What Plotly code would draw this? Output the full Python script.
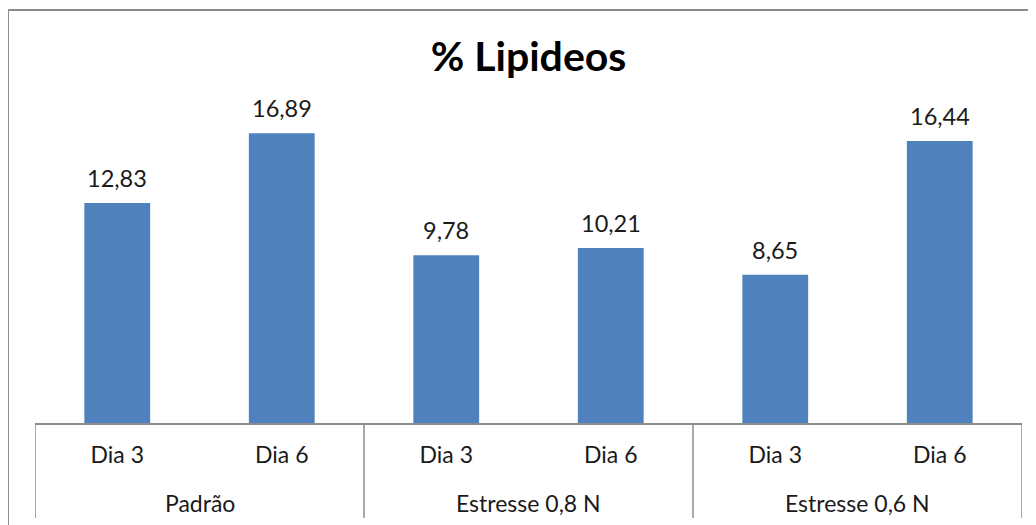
import plotly.graph_objects as go

grupos = ["Padrão", "Estresse 0,8 N", "Estresse 0,6 N"]
dias = ["Dia 3", "Dia 6", "Dia 3", "Dia 6", "Dia 3", "Dia 6"]
lipideos = [12.83, 16.89, 9.78, 10.21, 8.65, 16.44]

FONT = "Lato, Open Sans, sans-serif"
GRAY = "#8c8c8c"

cats = [f"{grupos[i // 2]} {d}" for i, d in enumerate(dias)]
labels = [f"{v:.2f}".replace(".", ",") for v in lipideos]

fig = go.Figure()
fig.add_trace(go.Bar(x=cats, y=lipideos, marker_color="#4F81BD", marker_line_width=0))

for c, v, t in zip(cats, lipideos, labels):
    fig.add_annotation(x=c, y=v, text=t, showarrow=False, yanchor="middle", yshift=25,
                       font=dict(family=FONT, size=23.5, color="#1a1a1a"))

# coordenadas na janela -> paper (o html tem margem de 8px)
L, T, B = 35, 80, 102
W, H = 987, 343
px = lambda v: (v - L) / W
py = lambda v: (423 - v) / H

# rótulos dos grupos e divisórias
for i, g in enumerate(grupos):
    fig.add_annotation(x=2 * i + 0.5, y=py(503), yref="paper", text=g, showarrow=False,
                       yanchor="middle", font=dict(family=FONT, size=23, color="#1a1a1a"))
for xd in [-0.5, 1.5, 3.5, 5.5]:
    fig.add_shape(type="line", xref="x", yref="paper", x0=xd, x1=xd, y0=0, y1=py(518),
                  line=dict(color=GRAY, width=1.5))

# borda do gráfico (recortada na imagem original)
fig.add_shape(type="line", xref="paper", yref="paper", x0=px(8), x1=px(8), y0=py(10), y1=py(540),
              line=dict(color=GRAY, width=2))
fig.add_shape(type="line", xref="paper", yref="paper", x0=px(8), x1=px(1050), y0=py(10), y1=py(10),
              line=dict(color=GRAY, width=2))

fig.update_layout(
    width=1028, height=517,
    margin=dict(l=27, r=14, t=72, b=102),
    paper_bgcolor="white", plot_bgcolor="white",
    title=dict(text="<b>% Lipideos</b>", x=0.5, xref="paper", xanchor="center",
               y=1 - 49 / 517, yanchor="middle",
               font=dict(family=FONT, size=41, color="black")),
    bargap=0.6, showlegend=False,
    xaxis=dict(type="category", tickvals=cats, ticktext=dias, range=[-0.5, 5.5],
               showline=True, linecolor=GRAY, linewidth=2,
               ticks="outside", ticklen=10, tickcolor="rgba(0,0,0,0)",
               tickfont=dict(family=FONT, size=23, color="#1a1a1a")),
    yaxis=dict(range=[0, 20], visible=False, showgrid=False),
)

fig.write_html("out.html")
